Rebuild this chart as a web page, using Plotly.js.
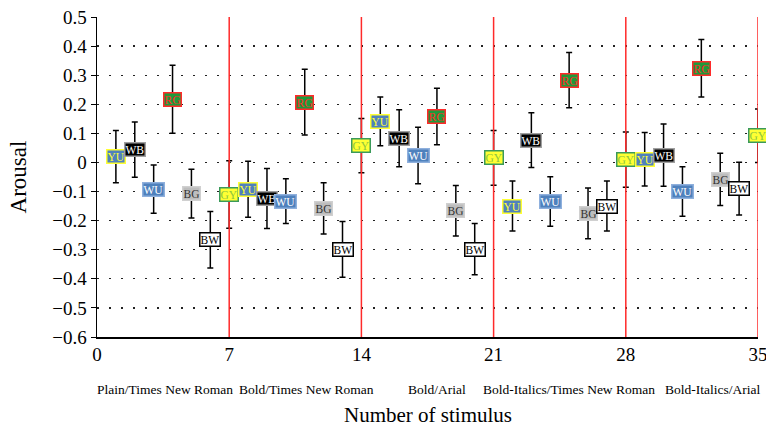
<!DOCTYPE html>
<html>
<head>
<meta charset="utf-8">
<script src="https://cdn.plot.ly/plotly-3.0.1.min.js"></script>
<style>html,body{margin:0;padding:0;background:#fff;} #chart{width:766px;height:430px;}</style>
</head>
<body>
<div id="chart"></div>
<script>
// ---- data ----
const stimulus = [1,2,3,4,5,6,7,8,9,10,11,12,13,14,15,16,17,18,19,20,21,22,23,24,25,26,27,28,29,30,31,32,33,34,35];
const codes = ['YU','WB','WU','RG','BG','BW','GY',
               'YU','WB','WU','RG','BG','BW','GY',
               'YU','WB','WU','RG','BG','BW','GY',
               'YU','WB','WU','RG','BG','BW','GY',
               'YU','WB','WU','RG','BG','BW','GY'];
const arousal = [0.020, 0.044, -0.092, 0.217, -0.107, -0.266, -0.110,
                 -0.092, -0.124, -0.133, 0.207, -0.158, -0.299, 0.058,
                 0.141, 0.083, 0.024, 0.158, -0.166, -0.298, 0.016,
                 -0.150, 0.077, -0.134, 0.283, -0.175, -0.150, 0.010,
                 0.011, 0.025, -0.100, 0.324, -0.058, -0.090, 0.092];
const errors = [0.090, 0.095, 0.083, 0.117, 0.084, 0.097, 0.116,
                0.096, 0.103, 0.077, 0.113, 0.088, 0.096, 0.093,
                0.084, 0.098, 0.097, 0.097, 0.087, 0.088, 0.094,
                0.086, 0.094, 0.085, 0.095, 0.087, 0.086, 0.095,
                0.092, 0.107, 0.085, 0.099, 0.090, 0.091, 0.092];
const xTicks = [0, 7, 14, 21, 28, 35];
const groupLabels = ['Plain/Times New Roman', 'Bold/Times New Roman', 'Bold/Arial',
                     'Bold-Italics/Times New Roman', 'Bold-Italics/Arial'];
const groupCenters = [3.6, 11.1, 18.0, 25.0, 32.6];
const dividers = [7, 14, 21, 28, 35];

// ---- styles ----
const FONT = '"Liberation Serif", "Times New Roman", serif';
const styles = {
  YU: {bg: '#4f81bd', border: '#ffff33', text: '#ffff33'},
  WB: {bg: '#000000', border: '#a0a0a0', text: '#ffffff'},
  WU: {bg: '#4f81bd', border: '#8fb0dd', text: '#ffffff'},
  RG: {bg: '#1f9a3a', border: '#ff2a2a', text: '#ff2a2a'},
  BG: {bg: '#bdbdbd', border: '#d0d0d0', text: '#333333'},
  BW: {bg: '#ffffff', border: '#000000', text: '#000000'},
  GY: {bg: '#ffff33', border: '#3a9a5a', text: '#8dc63f'}
};

const trace = {
  x: stimulus, y: arousal, type: 'scatter', mode: 'markers',
  marker: {size: 1, color: 'rgba(0,0,0,0)'},
  error_y: {type: 'data', array: errors, visible: true, color: '#000', thickness: 1.5, width: 3},
  hoverinfo: 'skip', showlegend: false, cliponaxis: false
};

const annotations = [];
stimulus.forEach((x, i) => {
  const s = styles[codes[i]];
  annotations.push({
    x: x, y: arousal[i], xref: 'x', yref: 'y', text: codes[i], showarrow: false,
    bgcolor: s.bg, bordercolor: s.border, borderwidth: 1.5, borderpad: 0,
    font: {family: FONT, size: 11.5, color: s.text}
  });
});
groupLabels.forEach((t, i) => {
  annotations.push({
    x: groupCenters[i], y: -0.1625, xref: 'x', yref: 'paper', text: t, showarrow: false,
    font: {family: FONT, size: 13.5, color: '#000'}, xanchor: 'center', yanchor: 'middle'
  });
});
annotations.push({
  x: 0.5, y: -0.244, xref: 'paper', yref: 'paper', text: 'Number of stimulus', showarrow: false,
  font: {family: FONT, size: 21, color: '#000'}, xanchor: 'center', yanchor: 'middle'
});

const shapes = dividers.map(d => ({
  type: 'line', xref: 'x', yref: 'paper', x0: d, x1: d, y0: 0, y1: 1,
  line: {color: '#ff2a2a', width: 1.5}
}));

const layout = {
  width: 766, height: 430,
  margin: {l: 97, r: 8, t: 17, b: 93},
  paper_bgcolor: '#fff', plot_bgcolor: '#fff',
  font: {family: FONT, color: '#000'},
  xaxis: {
    range: [0, 35], tickvals: xTicks, ticktext: xTicks.map(String),
    showgrid: false, zeroline: false, showline: true, linecolor: '#000', linewidth: 1.5,
    ticks: '', ticklabeloverflow: 'allow',
    tickfont: {family: FONT, size: 19, color: '#000'}
  },
  yaxis: {
    range: [-0.6, 0.5], dtick: 0.1, tick0: 0,
    showgrid: true, gridcolor: '#222', gridwidth: 1.3, griddash: '1.5px,10.5px',
    zeroline: false, showline: true, linecolor: '#000', linewidth: 1.5,
    ticks: 'outside', ticklen: 5, tickcolor: '#000',
    tickfont: {family: FONT, size: 19, color: '#000'},
    title: {text: 'Arousal', font: {family: FONT, size: 23, color: '#000'}, standoff: 19}
  },
  annotations: annotations,
  shapes: shapes
};

Plotly.newPlot('chart', [trace], layout, {displayModeBar: false, staticPlot: true});
</script>
</body>
</html>
